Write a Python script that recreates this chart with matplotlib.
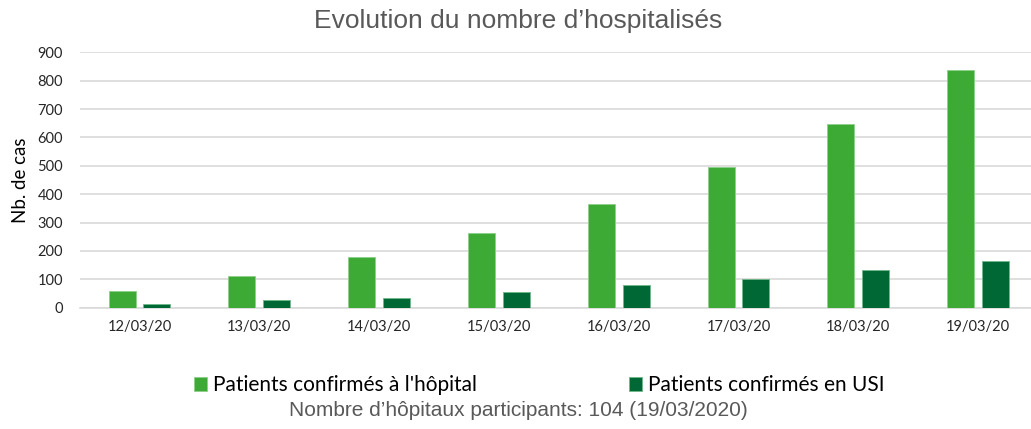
import numpy as np
import matplotlib.pyplot as plt

dates = ['12/03/20', '13/03/20', '14/03/20', '15/03/20',
         '16/03/20', '17/03/20', '18/03/20', '19/03/20']
hopital = [60, 111, 178, 264, 366, 497, 646, 838]
usi = [13, 26, 35, 54, 80, 100, 132, 163]

labels = ["Patients confirmés à l'hôpital", "Patients confirmés en USI"]
colors = ['#3DAA35', '#006835']

fig = plt.figure(figsize=(10.31, 4.29), dpi=100)
ax = fig.add_axes([0.0772, 0.2828, 0.9296, 0.5954])

x = np.arange(len(dates))
w = 0.225
b1 = ax.bar(x - 0.145, hopital, w, color=colors[0], edgecolor='#8fd08a', linewidth=0.6, label=labels[0], zorder=3)
b2 = ax.bar(x + 0.145, usi, w, color=colors[1], edgecolor='#6fb88a', linewidth=0.6, label=labels[1], zorder=3)

ax.set_xlim(-0.5, len(dates) - 0.5)
ax.set_ylim(0, 900)
ax.set_yticks(range(0, 901, 100))
ax.set_xticks(x)
ax.set_xticklabels(dates)
ax.grid(axis='y', color='#D9D9D9', linewidth=1.2, zorder=0)
for s in ['top', 'right', 'left']:
    ax.spines[s].set_visible(False)
ax.spines['bottom'].set_color('#D9D9D9')
ax.spines['bottom'].set_linewidth(1.2)
ax.tick_params(length=0)
ax.tick_params(axis='x', pad=9, labelsize=10.5, labelcolor='#262626')
ax.tick_params(axis='y', pad=12, labelsize=10.5, labelcolor='#262626')
for t in ax.get_xticklabels() + ax.get_yticklabels():
    t.set_family('Lato')

ax.set_ylabel('Nb. de cas', fontsize=13.5, family='Lato', labelpad=6)

fig.text(0.503, 0.952, 'Evolution du nombre d\u2019hospitalisés', ha='center', va='center',
         fontsize=19, color='#595959', family='Liberation Sans')

leg = fig.legend(handles=[b1, b2], loc='center', bbox_to_anchor=(0.523, 0.102), ncol=2,
                 frameon=False, prop={'family': 'Lato', 'size': 15},
                 handlelength=0.6, handleheight=0.6, handletextpad=0.3, columnspacing=7.3)

fig.text(0.503, 0.042, 'Nombre d\u2019hôpitaux participants: 104 (19/03/2020)', ha='center', va='center',
         fontsize=15, color='#595959', family='Liberation Sans')

fig.savefig('out.png', dpi=100)
